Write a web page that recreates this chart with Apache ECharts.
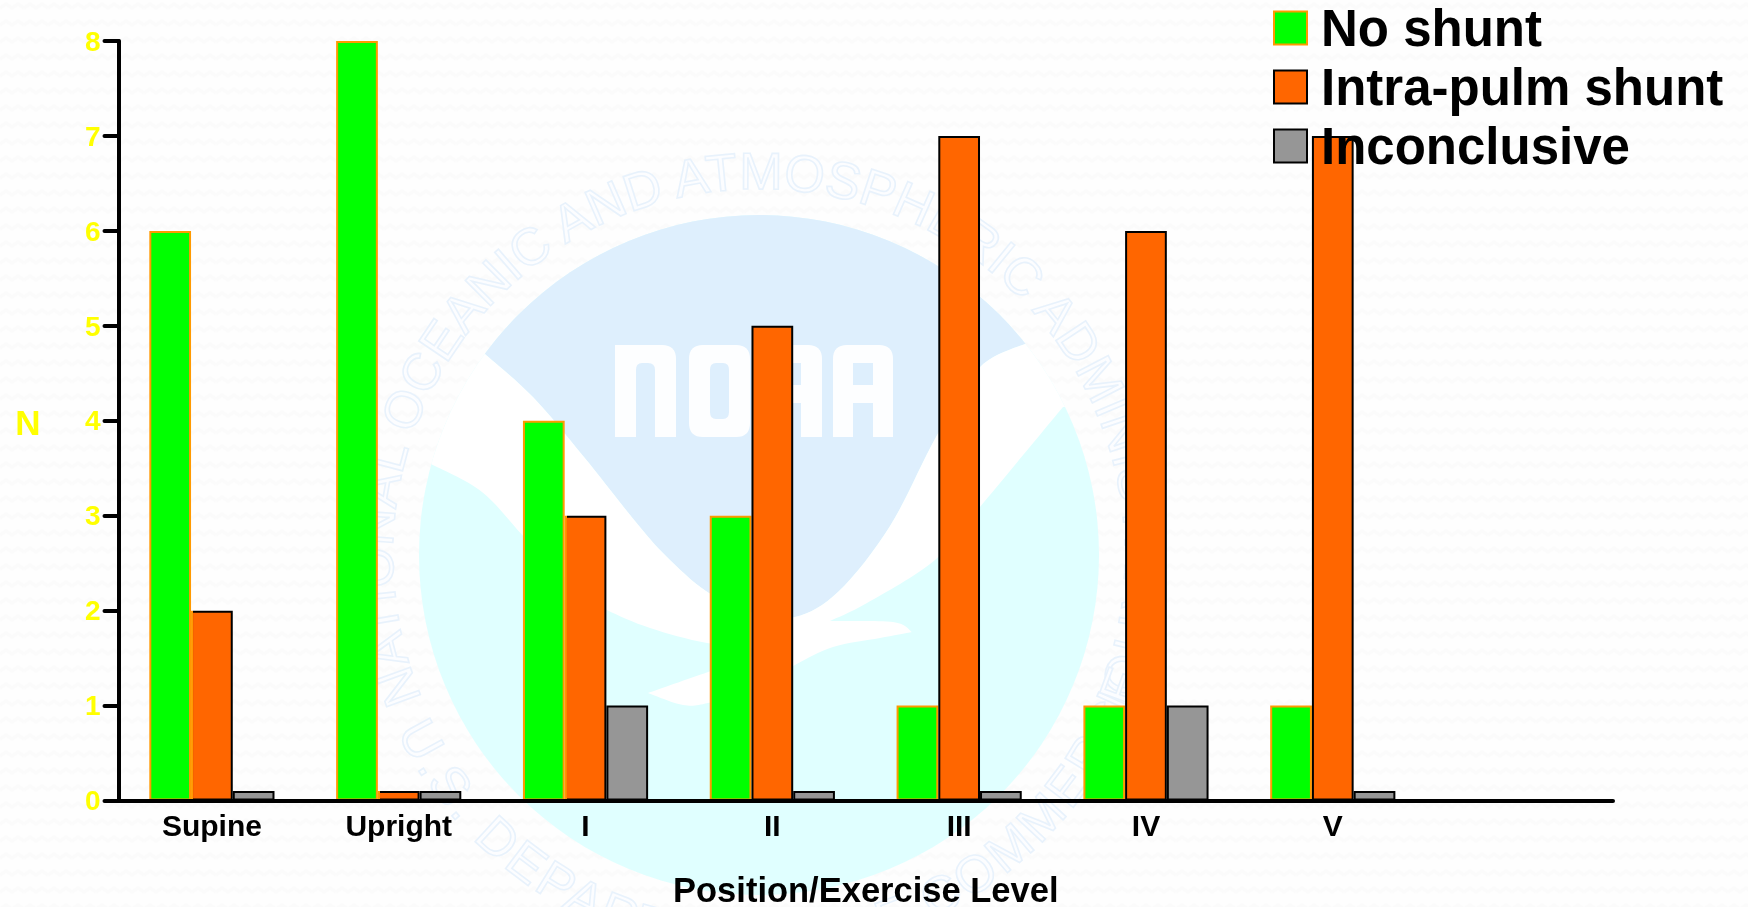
<!DOCTYPE html>
<html>
<head>
<meta charset="utf-8">
<title>Shunt by position and exercise level</title>
<script src="https://cdn.jsdelivr.net/npm/echarts@6/dist/echarts.min.js"></script>
<style>
html,body{margin:0;padding:0;width:1748px;height:907px;overflow:hidden;background:#fdfdfd}
#wm{position:absolute;left:0;top:0;width:1748px;height:907px}
#chart{position:absolute;left:0;top:0;width:1748px;height:907px}
</style>
</head>
<body>
<svg id="wm" xmlns="http://www.w3.org/2000/svg" viewBox="0 0 1748 907">
  <defs>
    <pattern id="tex" width="24" height="17" patternUnits="userSpaceOnUse">
      <rect width="24" height="17" fill="#fefefe"/>
      <path d="M0 8 L6 4 L12 8 L18 4 L24 8" fill="none" stroke="#fbfbfb" stroke-width="3"/>
    </pattern>
    <clipPath id="disc"><circle cx="759" cy="555" r="340"/></clipPath>
    <path id="ringTop" d=""/>
    <path id="ringBottom" d=""/>
  </defs>
  <rect width="1748" height="907" fill="url(#tex)"/>
  <g clip-path="url(#disc)">
    <rect x="400" y="200" width="720" height="710" fill="#e0ffff"/>
    <path id="blue" fill="#deeffd"/>
    <path id="swoosh" fill="#ffffff"/>
  </g>
  <g fill="#fdfeff">
    <path d="M615 345 H662 Q676 345 676 359 V437 H655 V370 Q655 363 648 363 H642 Q636 363 636 370 V437 H615 Z"/>
    <path fill-rule="evenodd" d="M703 345 H736 Q750 345 750 359 V423 Q750 437 736 437 H703 Q689 437 689 423 V359 Q689 345 703 345 Z M716 363 Q710 363 710 370 V412 Q710 419 716 419 H723 Q729 419 729 412 V370 Q729 363 723 363 Z"/>
    <path fill-rule="evenodd" d="M776 345 H808 Q822 345 822 359 V437 H801 V403 H783 V437 H762 V359 Q762 345 776 345 Z M783 363 V385 H801 V363 Z"/>
    <path fill-rule="evenodd" d="M847 345 H879 Q893 345 893 359 V437 H873 V403 H853 V437 H833 V359 Q833 345 847 345 Z M853 363 V385 H873 V363 Z"/>
  </g>
  <g font-family="Liberation Sans" font-size="52" fill="#fcfdff" stroke="#e8f2fc" stroke-width="1.6">
    <text><textPath id="tpTop" href="#ringTop" textLength="1470" lengthAdjust="spacing">NATIONAL OCEANIC AND ATMOSPHERIC ADMINISTRATION</textPath></text>
    <text><textPath id="tpBottom" href="#ringBottom" textLength="960" lengthAdjust="spacing">U.S. DEPARTMENT OF COMMERCE</textPath></text>
  </g>
</svg>
<div id="chart"></div>
<script>
// ---- chart data ----
const categories = ['Supine', 'Upright', 'I', 'II', 'III', 'IV', 'V', ''];
const noShunt = [6, 8, 4, 3, 1, 1, 1];
const intraPulmShunt = [2, 0.1, 3, 5, 7, 6, 7];
const inconclusive = [0.1, 0.1, 1, 0.1, 0.1, 1, 0.1];
const seriesNames = ['No shunt', 'Intra-pulm shunt', 'Inconclusive'];
const xTitle = 'Position/Exercise Level';
const yTitle = 'N';

// ---- decorative emblem behind the chart ----
function smooth(pts, first) {
  let d = first ? 'M' + pts[0][0] + ' ' + pts[0][1] : 'L' + pts[0][0] + ' ' + pts[0][1];
  for (let i = 0; i < pts.length - 1; i++) {
    const p0 = pts[Math.max(i - 1, 0)], p1 = pts[i], p2 = pts[i + 1], p3 = pts[Math.min(i + 2, pts.length - 1)];
    d += ' C' + (p1[0] + (p2[0] - p0[0]) / 6) + ' ' + (p1[1] + (p2[1] - p0[1]) / 6) + ' ' +
      (p2[0] - (p3[0] - p1[0]) / 6) + ' ' + (p2[1] - (p3[1] - p1[1]) / 6) + ' ' + p2[0] + ' ' + p2[1];
  }
  return d;
}
const blueEdge = [[485,354],[533,397],[584,457],[635,521],[666,556],[706,591],[750,612],[795,617],[839,591],[890,526],[936,437],[979,368],[1027,343]];
document.getElementById('blue').setAttribute('d',
  smooth(blueEdge, true) + ' L1120 343 L1120 200 L400 200 L400 354 Z');
const swooshParts = [
  smooth(blueEdge, true),
  'L1110 343 L1110 407 L1063 407',
  smooth([[1063,407],[980,507],[935,560],[867,603],[830,621]], false),
  smooth([[830,621],[893,622],[912,632]], false),
  smooth([[912,632],[880,638],[833,647],[795,665],[750,690],[708,703],[683,705],[648,693]], false),
  smooth([[648,693],[708,672],[770,650]], false),
  smooth([[770,650],[707,643],[650,628],[607,610],[584,595],[528,541],[482,492],[431,464]], false),
  'L400 464 L400 354 Z'
];
document.getElementById('swoosh').setAttribute('d', swooshParts.join(' '));
function arcPath(r, a0, a1, large, sweep) {
  const c = [759, 555];
  const pt = a => [c[0] + r * Math.cos(a * Math.PI / 180), c[1] + r * Math.sin(a * Math.PI / 180)];
  const s = pt(a0), e = pt(a1);
  return 'M' + s[0] + ' ' + s[1] + ' A' + r + ' ' + r + ' 0 ' + large + ' ' + sweep + ' ' + e[0] + ' ' + e[1];
}
document.getElementById('ringTop').setAttribute('d', arcPath(366, 157, 28, 1, 1));
document.getElementById('ringBottom').setAttribute('d', arcPath(403, 154, 17, 0, 0));

// ---- chart ----
const font = 'Liberation Sans';
const chart = echarts.init(document.getElementById('chart'), null, { renderer: 'canvas' });
const barSeries = (name, data, fill, edge) => ({
  name, data, type: 'bar', barGap: 0, barCategoryGap: '33%',
  itemStyle: { color: fill, borderColor: edge, borderWidth: 2 },
  animation: false
});
// Where the green bar is the taller one its orange edge stays on top of the shared side.
const sharedEdge = {
  type: 'linear', x: 0, y: 0, x2: 1, y2: 0,
  colorStops: [
    { offset: 0, color: '#ff9900' }, { offset: 0.05, color: '#ff9900' },
    { offset: 0.05, color: '#000000' }, { offset: 1, color: '#000000' }
  ]
};
const orangeItems = intraPulmShunt.map((v, i) =>
  noShunt[i] > v ? { value: v, itemStyle: { borderColor: sharedEdge } } : v);
chart.setOption({
  backgroundColor: 'transparent',
  animation: false,
  grid: { left: 118.5, top: 41, right: 1748 - 1613, bottom: 907 - 800.5, containLabel: false, outerBoundsMode: 'none' },
  legend: {
    left: 1273, top: -1.5, orient: 'vertical', padding: 0, itemGap: 0,
    itemWidth: 33, itemHeight: 33, icon: 'rect',
    data: seriesNames,
    selectedMode: false,
    formatter: n => '{t|' + n + '}',
    textStyle: {
      rich: { t: { fontFamily: font, fontWeight: 'bold', fontSize: 51, color: '#000', lineHeight: 52, padding: [8, 0, 0, 9] } }
    }
  },
  xAxis: {
    type: 'category', data: categories, z: 5,
    name: xTitle, nameLocation: 'middle', nameGap: 74,
    nameTextStyle: { fontFamily: font, fontWeight: 'bold', fontSize: 34.5, color: '#000' },
    axisLine: { lineStyle: { color: '#000', width: 4, cap: 'round' } },
    axisTick: { show: false },
    axisLabel: { fontFamily: font, fontWeight: 'bold', fontSize: 30, color: '#000', margin: 12, interval: 0 }
  },
  yAxis: {
    type: 'value', min: 0, max: 8, interval: 1, z: 5,
    name: yTitle, nameLocation: 'middle', nameRotate: 0, nameGap: 78,
    nameTextStyle: { fontFamily: font, fontWeight: 'bold', fontSize: 35, color: '#ffff00', verticalAlign: 'top', lineHeight: 9 },
    splitLine: { show: false },
    axisLine: { show: true, lineStyle: { color: '#000', width: 4, cap: 'round' } },
    axisTick: { show: true, length: 14, lineStyle: { color: '#000', width: 4, cap: 'round' } },
    axisLabel: { fontFamily: font, fontWeight: 'bold', fontSize: 28, color: '#ffff00', margin: 18, verticalAlign: 'top', lineHeight: 4 }
  },
  series: [
    barSeries(seriesNames[0], noShunt, '#00ff00', '#ff9900'),
    barSeries(seriesNames[1], orangeItems, '#ff6600', '#000000'),
    barSeries(seriesNames[2], inconclusive, '#969696', '#000000')
  ]
});
</script>
</body>
</html>
